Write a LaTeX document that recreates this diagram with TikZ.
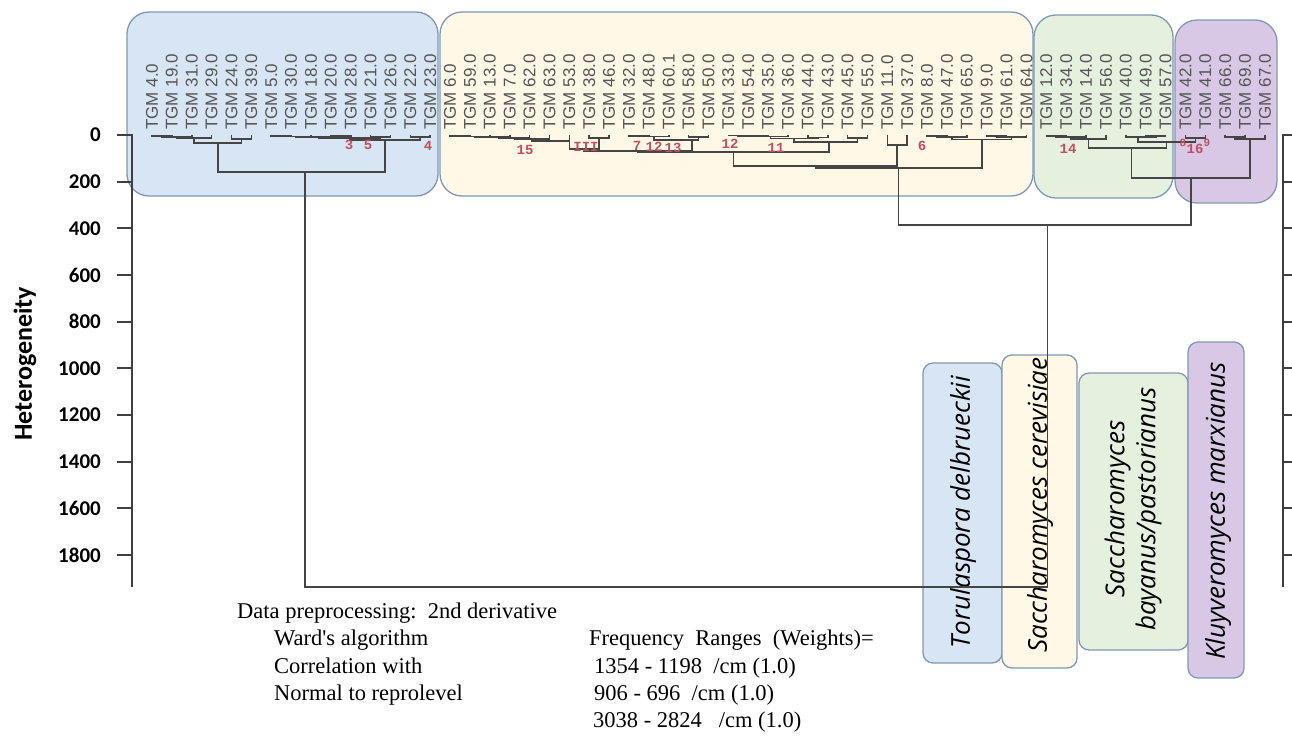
\documentclass[tikz,border=0pt]{standalone}
\usepackage{fontspec}
\setmainfont{Liberation Serif}
\newfontfamily\footfont{Liberation Serif}[Ligatures=TeXOff]
\newfontfamily\labfont{Liberation Sans}
\newfontfamily\axfont{Carlito}
\newfontfamily\spfont{Open Sans}
\newfontfamily\redfont{Liberation Mono}
\usetikzlibrary{calc}
\definecolor{bluefill}{HTML}{D7E5F4}
\definecolor{yellowfill}{HTML}{FFF8E7}
\definecolor{greenfill}{HTML}{E5F0DE}
\definecolor{purplefill}{HTML}{D8C8E6}
\definecolor{boxline}{HTML}{7F99B5}
\definecolor{dendline}{HTML}{454545}
\definecolor{labgray}{HTML}{555555}
\definecolor{redlab}{HTML}{C05060}
\definecolor{axline}{HTML}{404040}
\newcommand{\mrg}[5][0.5]{%
  \coordinate (#2a) at (#3 |- 0,#5);
  \coordinate (#2b) at (#4 |- 0,#5);
  \draw[dend] (#3) -- (#2a) -- (#2b) -- (#4);
  \coordinate (#2) at ($(#2a)!#1!(#2b)$);
}
\tikzset{
  dend/.style={draw=dendline, line width=1.7pt},
  clusterbox/.style={draw=boxline, line width=1.3pt, rounded corners=22pt},
  speciesbox/.style={draw=boxline, line width=1.3pt, rounded corners=10pt},
  lbl/.style={rotate=90, anchor=west, inner sep=0pt, text=labgray, font=\labfont\fontsize{17}{17}\selectfont},
  redl/.style={inner sep=0pt, text=redlab, font=\redfont\bfseries\fontsize{14}{14}\selectfont},
  ticklab/.style={anchor=east, inner sep=0pt, font=\axfont\bfseries\fontsize{21}{21}\selectfont},
  spec/.style={rotate=90, inner sep=0pt, align=center, font=\spfont\itshape\fontsize{26}{31}\selectfont},
  foot/.style={anchor=base west, inner sep=0pt, font=\footfont\fontsize{22.5}{22.5}\selectfont},
  axis/.style={draw=axline, line width=1.9pt}
}
\begin{document}
\begin{tikzpicture}[x=1pt,y=-1pt]
\useasboundingbox (0,0) rectangle (1292,737);
\fill[white] (0,0) rectangle (1292,737);
% cluster boxes
\path[clusterbox, fill=bluefill] (127,12) rectangle (438,196);
\path[clusterbox, fill=yellowfill] (440,12) rectangle (1033,196);
\path[clusterbox, fill=greenfill] (1034,15) rectangle (1173,198);
\path[clusterbox, fill=purplefill] (1175,20) rectangle (1277,203);
% species boxes
\path[speciesbox, fill=bluefill] (923,363) rectangle (1002,663);
\path[speciesbox, fill=yellowfill] (1002,355) rectangle (1077,668);
\path[speciesbox, fill=greenfill] (1079,373) rectangle (1188,650);
\path[speciesbox, fill=purplefill] (1188,342) rectangle (1244,678);
\node[spec] (sp1) at (963,512) {Torulaspora delbrueckii};
\node[spec] (sp2) at (1040,505) {Saccharomyces cerevisiae};
\node[spec] (sp3) at (1133,509) {Saccharomyces\\bayanus/pastorianus};
\node[spec] (sp4) at (1218,511) {Kluyveromyces marxianus};
% leaves
\foreach \i in {0,...,56} \coordinate (L\i) at ({152+19.875*\i},134.5);
% blue cluster
\mrg{b1}{L0}{L1}{136}
\mrg{b2}{b1}{L2}{137}
\mrg{b3}{b2}{L3}{138}
\mrg{b4}{L4}{L5}{139}
\mrg{bA}{b3}{b4}{143}
\mrg{b5}{L6}{L7}{136}
\mrg{b6}{b5}{L8}{136.5}
\mrg{b7}{L9}{L10}{136}
\mrg{b8}{b6}{b7}{137}
\mrg{b9}{L11}{L12}{137}
\mrg{b10}{b8}{b9}{138}
\mrg{b11}{L13}{L14}{137}
\mrg{bB}{b10}{b11}{140}
\mrg[0.52]{blue}{bA}{bB}{172}
% yellow cluster
\mrg{y1}{L15}{L16}{136}
\mrg{y2}{y1}{L17}{136.5}
\mrg[0.7]{y3}{y2}{L18}{137}
\mrg{y4}{y3}{L19}{138}
\mrg{y5}{y4}{L20}{139}
\mrg[1]{y6}{y5}{L21}{141}
\mrg{y7}{L22}{L23}{138}
\mrg{y8}{y6}{y7}{149}
\mrg{y9}{L24}{L25}{136}
\mrg{y10}{y9}{L26}{136.5}
\mrg{y11}{L27}{L28}{137}
\mrg[0.85]{y12}{y10}{y11}{140}
\mrg{y13}{y8}{y12}{151}
\mrg{y14}{L29}{L30}{135.5}
\mrg{y15}{y14}{L31}{136}
\mrg{y16}{y15}{L32}{136.5}
\mrg{y17}{L33}{L34}{137.5}
\mrg{y18}{y16}{y17}{138.5}
\mrg{y19}{L35}{L36}{138}
\mrg[0.55]{y20}{y18}{y19}{142}
\mrg{y21}{y13}{y20}{152}
\mrg{y22}{L37}{L38}{145}
\mrg{y23}{y21}{y22}{166}
\mrg{y24}{L39}{L40}{136}
\mrg{y25}{y24}{L41}{137}
\mrg{y26}{L42}{L43}{136}
\mrg{y27}{y26}{L44}{137}
\mrg{y28}{y25}{y27}{139.5}
\mrg{yellow}{y23}{y28}{168}
% green + purple clusters
\mrg{g1}{L45}{L46}{136}
\mrg{g2}{g1}{L47}{137}
\mrg{g3}{g2}{L48}{139}
\mrg{g4}{L50}{L51}{136}
\mrg[0.4]{g5}{L49}{g4}{137}
\mrg{p1}{L52}{L53}{138}
\mrg{g6}{g5}{p1}{142}
\mrg[0.55]{g7}{g3}{g6}{148}
\mrg{p2}{L54}{L55}{137}
\mrg{p3}{p2}{L56}{139}
\mrg{gp}{g7}{p3}{178}
\mrg[0.51]{top}{yellow}{gp}{225}
\mrg{all}{blue}{top}{587}
% red cluster numbers
\node[redl] (r3) at (349,145) {3};
\node[redl] (r5) at (368,145) {5};
\node[redl] (r4) at (428,146) {4};
\node[redl] (r15) at (525,150) {15};
\node[redl] (r10) at (586,147) {III};
\node[redl] (r7) at (637,146) {7};
\node[redl] (r12a) at (654,147) {12};
\node[redl] (r13) at (673,148) {13};
\node[redl] (r12b) at (730,144) {12};
\node[redl] (r11) at (776,148) {11};
\node[redl] (r6) at (922,146) {6};
\node[redl] (r14) at (1068,149) {14};
\node[redl, font=\redfont\bfseries\fontsize{11}{11}\selectfont] (r8) at (1183,143) {8};
\node[redl] (r16) at (1195,149) {16};
\node[redl, font=\redfont\bfseries\fontsize{11}{11}\selectfont] (r9) at (1207,143) {9};
% leaf labels
\foreach \i/\t in {0/4.0,1/19.0,2/31.0,3/29.0,4/24.0,5/39.0,6/5.0,7/30.0,8/18.0,9/20.0,10/28.0,11/21.0,12/26.0,13/22.0,14/23.0,
  15/6.0,16/59.0,17/13.0,18/7.0,19/62.0,20/63.0,21/53.0,22/38.0,23/46.0,24/32.0,25/48.0,26/60.1,27/58.0,28/50.0,29/33.0,
  30/54.0,31/35.0,32/36.0,33/44.0,34/43.0,35/45.0,36/55.0,37/11.0,38/37.0,39/8.0,40/47.0,41/65.0,42/9.0,43/61.0,44/64.0,
  45/12.0,46/34.0,47/14.0,48/56.0,49/40.0,50/49.0,51/57.0,52/42.0,53/41.0,54/66.0,55/69.0,56/67.0}
  \node[lbl] (t\i) at ({152+19.875*\i},130) {TGM \t};
% axes
\draw[axis] (117,135) -- (132,135) -- (132,587);
\draw[axis] (1292,135) -- (1283,135) -- (1283,587);
\foreach \k in {0,...,9} {
  \draw[axis] (117,{135+46.67*\k}) -- (132,{135+46.67*\k});
  \draw[axis] (1283,{135+46.67*\k}) -- (1292,{135+46.67*\k});
  \pgfmathtruncatemacro{\v}{200*\k}
  \node[ticklab] (y\k) at (101,{135+46.67*\k}) {\v};
}
\node[rotate=90, inner sep=0pt, font=\axfont\bfseries\fontsize{26}{26}\selectfont] (ytitle) at (25,364) {Heterogeneity};
% footer text
\node[foot] (f1) at (237,618) {Data preprocessing:\ \ 2nd derivative};
\node[foot] (f2) at (274,645) {Ward's algorithm};
\node[foot] (f3) at (274,673) {Correlation with};
\node[foot] (f4) at (274,700) {Normal to reprolevel};
\node[foot] (f5) at (589,645) {Frequency\ \ Ranges\ \ (Weights)=};
\node[foot] (f6) at (594,673) {1354 - 1198\ \ /cm (1.0)};
\node[foot] (f7) at (594,700) {906 - 696\ \ /cm (1.0)};
\node[foot] (f8) at (593,727) {3038 - 2824\ \ \ /cm (1.0)};
\end{tikzpicture}
\end{document}
